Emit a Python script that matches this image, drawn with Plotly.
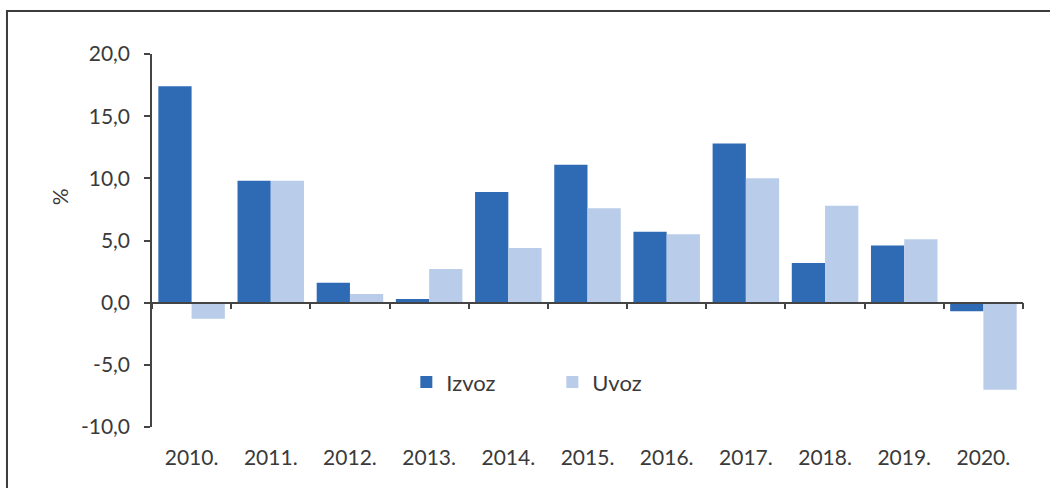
import plotly.graph_objects as go

# annual growth rates, %
years = ['2010.', '2011.', '2012.', '2013.', '2014.', '2015.',
         '2016.', '2017.', '2018.', '2019.', '2020.']
izvoz = [17.4, 9.8, 1.6, 0.3, 8.9, 11.1, 5.7, 12.8, 3.2, 4.6, -0.7]
uvoz = [-1.3, 9.8, 0.7, 2.7, 4.4, 7.6, 5.5, 10.0, 7.8, 5.1, -7.0]

ytick_vals = [-10, -5, 0, 5, 10, 15, 20]
ytick_labels = ['-10,0', '-5,0', '0,0', '5,0', '10,0', '15,0', '20,0']

DARK = '#2f6bb5'
LIGHT = '#b9cce9'
TXT = '#3a3a3a'
AX = '#444'
FONT = 'Lato'

fig = go.Figure()
fig.add_trace(go.Bar(x=years, y=izvoz, name='Izvoz',
                     marker=dict(color=DARK, line=dict(width=0))))
fig.add_trace(go.Bar(x=years, y=uvoz, name='Uvoz',
                     marker=dict(color=LIGHT, line=dict(width=0))))
# empty trace so the zero-line category axis gets drawn
fig.add_trace(go.Scatter(x=years, y=[None] * len(years), xaxis='x2',
                         mode='lines', showlegend=False, hoverinfo='skip'))

ymin, ymax = -10, 20

fig.update_layout(
    width=1050, height=488,
    margin=dict(l=152, r=27, t=54, b=61),
    paper_bgcolor='white', plot_bgcolor='white',
    font=dict(family=FONT, size=21, color=TXT),
    barmode='group', bargap=0.16, bargroupgap=0,
    showlegend=True,
    legend=dict(orientation='h', x=0.292, y=0.12, xanchor='left', yanchor='middle',
                font=dict(size=22, color=TXT), entrywidth=101,
                entrywidthmode='pixels', bgcolor='rgba(0,0,0,0)'),
    xaxis=dict(type='category', categoryarray=years, range=[-0.5, 10.5],
               showline=False, ticks='', showgrid=False,
               ticklabelstandoff=16, tickfont=dict(size=21, color=TXT)),
    xaxis2=dict(type='category', categoryarray=years, range=[-0.5, 10.5],
                overlaying='x', anchor='free',
                position=(0 - ymin) / (ymax - ymin),
                showline=True, linecolor=AX, linewidth=1.5,
                ticks='outside', tickson='boundaries', ticklen=6,
                tickcolor=AX, tickwidth=1.5,
                showticklabels=False, showgrid=False),
    yaxis=dict(range=[ymin, ymax], tickvals=ytick_vals, ticktext=ytick_labels,
               showline=True, linecolor=AX, linewidth=1.5,
               ticks='outside', ticklen=6, tickcolor=AX, tickwidth=1.5,
               showgrid=False, zeroline=False, ticklabelstandoff=10,
               tickfont=dict(size=21, color=TXT)),
)

fig.add_annotation(text='%', xref='paper', yref='paper', x=-0.123, y=0.617,
                   showarrow=False, textangle=-90,
                   font=dict(size=21, color=TXT))

# outer frame
fig.add_shape(type='rect', xref='paper', yref='paper',
              x0=-0.1665, x1=1.1, y0=-0.3, y1=1.115,
              line=dict(color='#3c3c3c', width=2), layer='below')

fig.write_html("out.html", config={'displayModeBar': False},
               post_script="document.body.style.margin='0';")
